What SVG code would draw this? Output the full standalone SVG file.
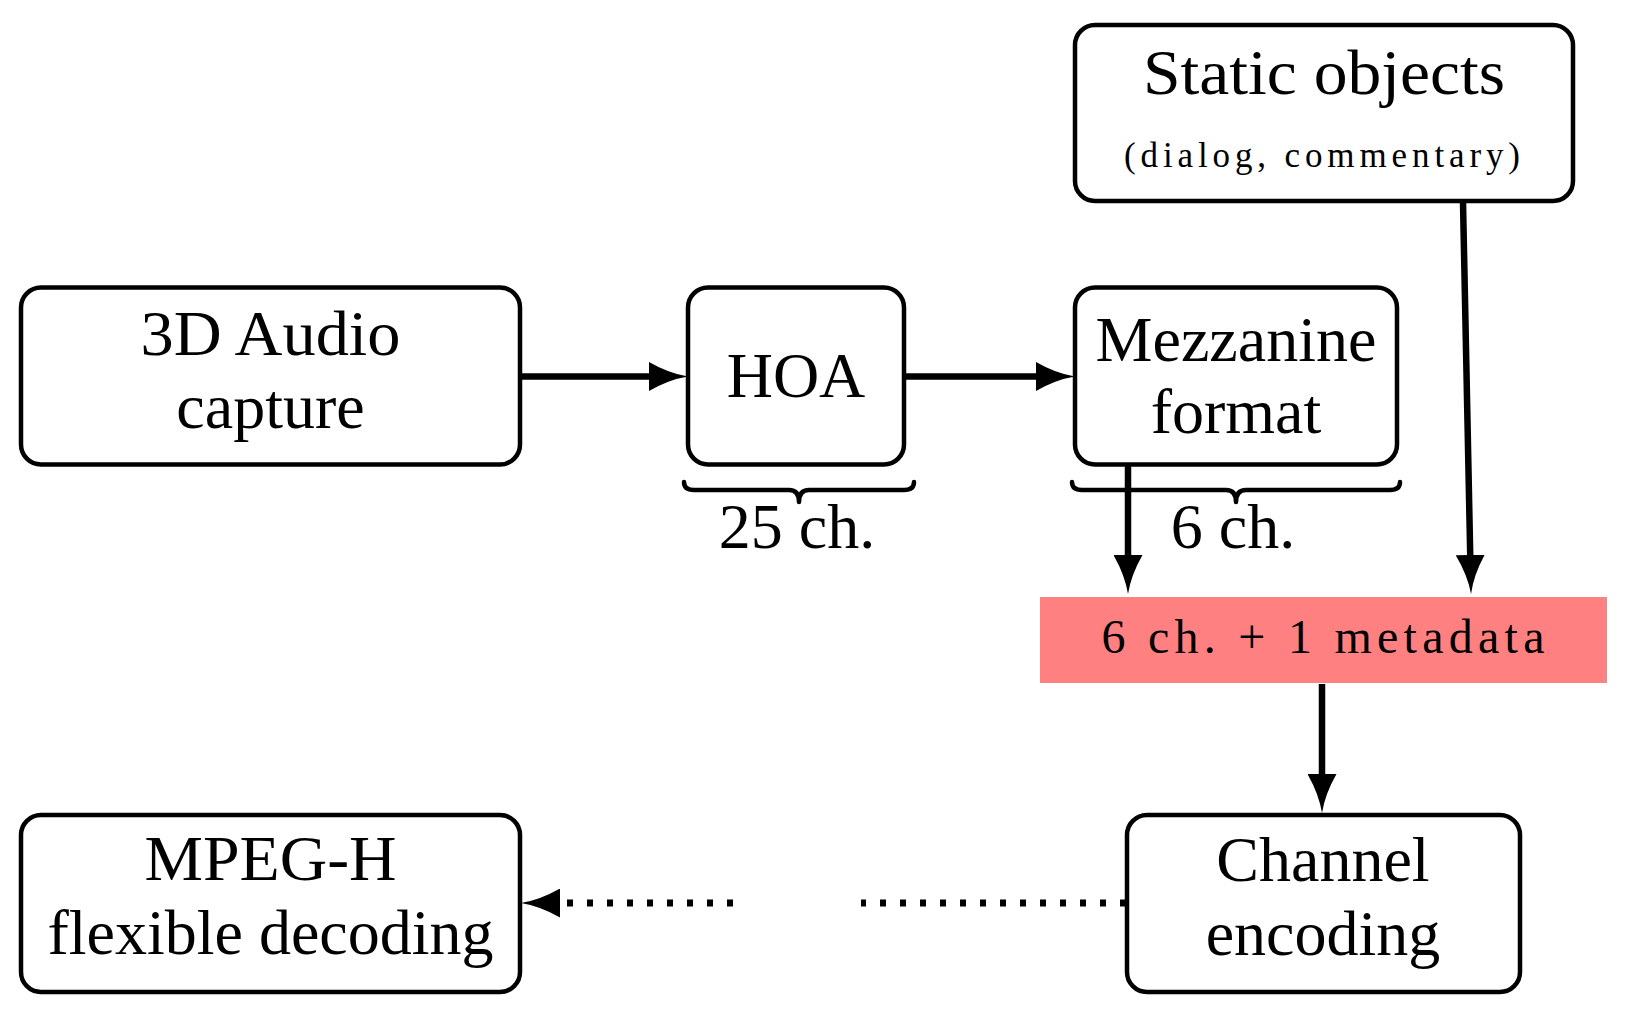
<svg xmlns="http://www.w3.org/2000/svg" width="1650" height="1016" viewBox="0 0 1650 1016">
<style>
.box{fill:#fff;stroke:#000;stroke-width:4.5}
.t{font-family:"Liberation Serif","Times New Roman",serif;font-size:64px;fill:#000;text-anchor:middle}
.s{font-size:35px}
.m{font-size:48px}
.c{fill:none;stroke:#000;stroke-width:6.5}
.d{fill:none;stroke:#000;stroke-width:7;stroke-dasharray:6 14}
.br{fill:none;stroke:#000;stroke-width:4.5;stroke-linecap:round;stroke-linejoin:round}
</style>
<defs>
<marker id="ah" markerUnits="userSpaceOnUse" viewBox="0 0 39 29" markerWidth="39" markerHeight="29" refX="4" refY="14.5" orient="auto">
<path d="M0,0 Q20,11.5 39,14.5 Q20,17.5 0,29 Z" fill="#000"/>
</marker>
</defs>
<rect width="1650" height="1016" fill="#fff"/>
<g id="connectors">
<path class="c" d="M522,376.5 L653,376.5" marker-end="url(#ah)"/>
<path class="c" d="M906,376.5 L1040,376.5" marker-end="url(#ah)"/>
<path class="c" d="M1128,466 L1128,559" marker-end="url(#ah)"/>
<path class="c" d="M1463,202 L1470.3,559" marker-end="url(#ah)"/>
<path class="c" d="M1322,684 L1322,778" marker-end="url(#ah)"/>
<path class="d" d="M1126,903 L861,903"/>
<path class="d" d="M733,903 L556,903" marker-end="url(#ah)"/>
</g>
<g id="audio-capture">
<rect class="box" x="21" y="287.5" width="499" height="177" rx="20"/>
<text class="t" x="270.5" y="355" textLength="260" lengthAdjust="spacingAndGlyphs">3D Audio</text>
<text class="t" x="270.5" y="428">capture</text>
</g>
<g id="hoa">
<rect class="box" x="688" y="287.5" width="216" height="177" rx="20"/>
<text class="t" x="796" y="397">HOA</text>
</g>
<g id="mezzanine">
<rect class="box" x="1075" y="287.5" width="322" height="177" rx="20"/>
<text class="t" x="1236" y="361" textLength="281" lengthAdjust="spacingAndGlyphs">Mezzanine</text>
<text class="t" x="1236" y="433">format</text>
</g>
<g id="static-objects">
<rect class="box" x="1075" y="25" width="498" height="176" rx="20"/>
<text class="t" x="1324" y="94" textLength="362" lengthAdjust="spacingAndGlyphs">Static objects</text>
<text class="t s" x="1322" y="167" textLength="396" lengthAdjust="spacing">(dialog, commentary)</text>
</g>
<g id="brace-hoa">
<path class="br" d="M684,482 Q684,490 694,490 L789,490 Q799,490 799,502 Q799,490 809,490 L904,490 Q914,490 914,482"/>
<text class="t" x="797" y="548">25 ch.</text>
</g>
<g id="brace-mezzanine">
<path class="br" d="M1072,482 Q1072,490 1082,490 L1226,490 Q1236,490 1236,502 Q1236,490 1246,490 L1390,490 Q1400,490 1400,482"/>
<text class="t" x="1233" y="548">6 ch.</text>
</g>
<g id="metadata">
<rect x="1040" y="597" width="567" height="86" fill="#ff8080"/>
<text class="t m" x="1323" y="653" textLength="443" lengthAdjust="spacing">6 ch. + 1 metadata</text>
</g>
<g id="channel-encoding">
<rect class="box" x="1127" y="815" width="393" height="177" rx="20"/>
<text class="t" x="1323" y="881">Channel</text>
<text class="t" x="1323" y="955">encoding</text>
</g>
<g id="mpeg-h">
<rect class="box" x="21" y="815" width="499" height="177" rx="20"/>
<text class="t" x="270.5" y="880" textLength="252" lengthAdjust="spacingAndGlyphs">MPEG-H</text>
<text class="t" x="270.5" y="954">flexible decoding</text>
</g>
</svg>
